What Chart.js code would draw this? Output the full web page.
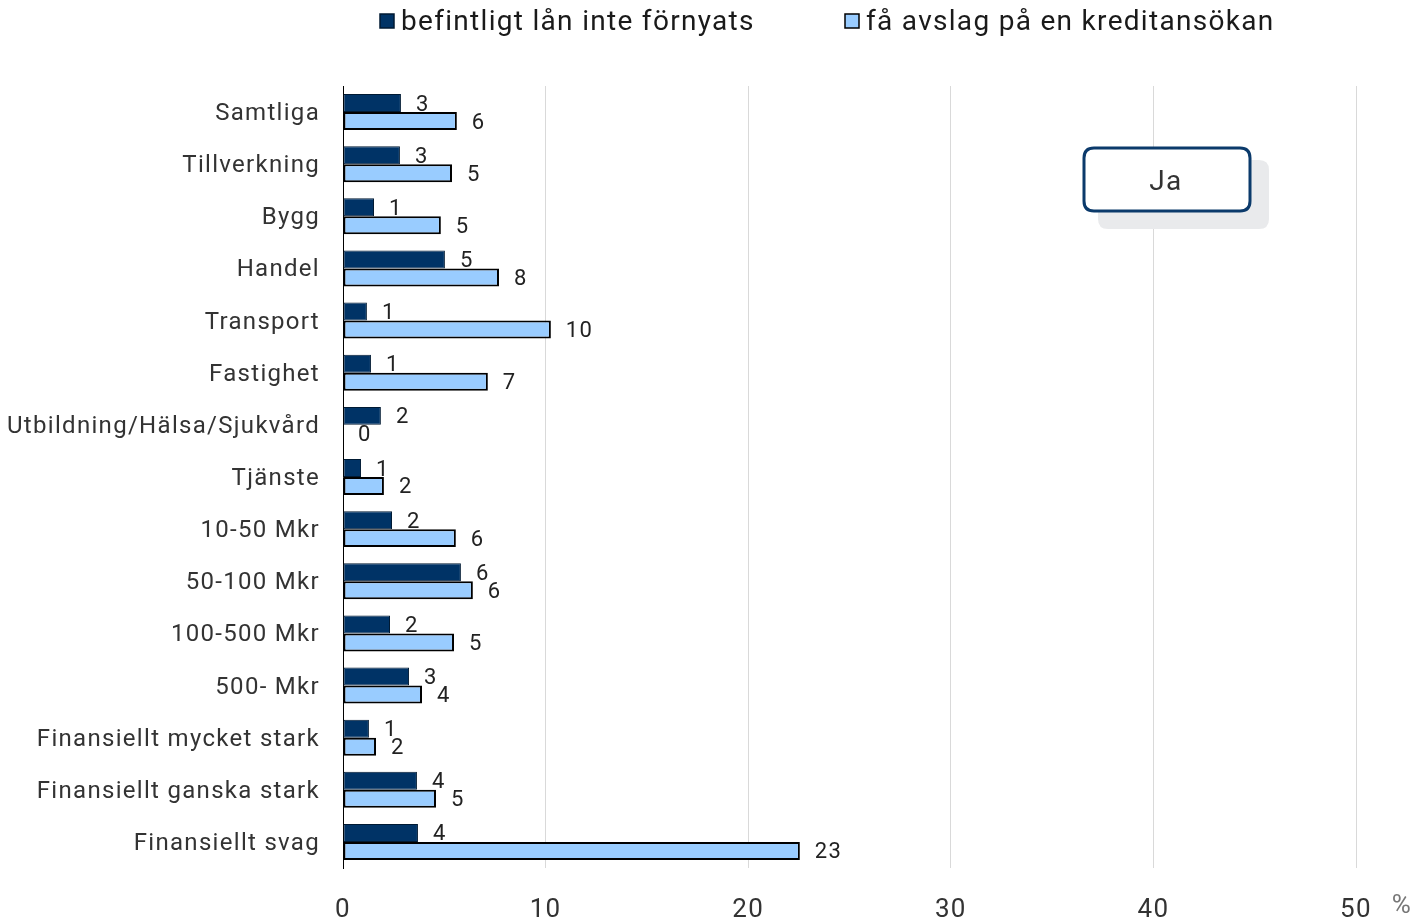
<!DOCTYPE html>
<html>
<head>
<meta charset="utf-8">
<script src="https://cdn.jsdelivr.net/npm/chart.js@4/dist/chart.umd.min.js"></script>
<style>
  html, body { margin: 0; padding: 0; background: #fff; }
  #wrap { width: 1422px; height: 921px; position: relative; }
</style>
</head>
<body>
<div id="wrap"><canvas id="c"></canvas></div>
<script>
  // kategorier och värden (procent)
  var categories = [
    'Samtliga', 'Tillverkning', 'Bygg', 'Handel', 'Transport', 'Fastighet',
    'Utbildning/Hälsa/Sjukvård', 'Tjänste', '10-50 Mkr', '50-100 Mkr',
    '100-500 Mkr', '500- Mkr', 'Finansiellt mycket stark',
    'Finansiellt ganska stark', 'Finansiellt svag'
  ];
  var seriesNames = ['befintligt lån inte förnyats', 'få avslag på en kreditansökan'];
  var notRenewed = [2.86, 2.81, 1.53, 5.03, 1.18, 1.38, 1.87, 0.89, 2.42, 5.82, 2.32, 3.26, 1.28, 3.65, 3.70];
  var rejected   = [5.62, 5.38, 4.83, 7.70, 10.26, 7.15, 0, 2.02, 5.57, 6.41, 5.48, 3.90, 1.63, 4.59, 22.55];
  var notRenewedLabels = ['3', '3', '1', '5', '1', '1', '2', '1', '2', '6', '2', '3', '1', '4', '4'];
  var rejectedLabels   = ['6', '5', '5', '8', '10', '7', '0', '2', '6', '6', '5', '4', '2', '5', '23'];
  var xTicks = [0, 10, 20, 30, 40, 50];

  var DARK = '#003366';
  var LIGHT = '#99CCFF';
  var FONT = "Roboto, 'Noto Sans', sans-serif";
  var SPACING = '1.3px';

  // bredare teckenavstånd, sätts om efter varje canvas-resize
  var spacing = {
    id: 'spacing',
    beforeLayout: function (chart) { chart.ctx.letterSpacing = SPACING; },
    beforeDraw: function (chart) { chart.ctx.letterSpacing = SPACING; }
  };

  /* -------------------------------------------------------
     värdeetiketter vid staplarnas ände
  ------------------------------------------------------- */
  var valueLabels = {
    id: 'valueLabels',
    afterDatasetsDraw: function (chart) {
      var ctx = chart.ctx;
      var lists = [notRenewedLabels, rejectedLabels];
      ctx.save();
      ctx.font = '22px ' + FONT;
      ctx.fillStyle = '#222';
      ctx.textAlign = 'left';
      ctx.textBaseline = 'middle';
      chart.data.datasets.forEach(function (ds, i) {
        chart.getDatasetMeta(i).data.forEach(function (el, j) {
          ctx.fillText(lists[i][j], el.x + 15, el.y + 2);
        });
      });
      ctx.restore();
    }
  };

  /* -------------------------------------------------------
     legend, "Ja"-ruta och %-tecken
  ------------------------------------------------------- */
  var decorations = {
    id: 'decorations',
    afterDraw: function (chart) {
      var ctx = chart.ctx;
      ctx.save();

      // legend
      ctx.font = '28px ' + FONT;
      ctx.textBaseline = 'middle';
      ctx.textAlign = 'left';
      var items = [
        { x: 380, color: DARK, border: '#001a33', text: seriesNames[0] },
        { x: 845, color: LIGHT, border: '#000', text: seriesNames[1] }
      ];
      items.forEach(function (it) {
        ctx.fillStyle = it.color;
        ctx.fillRect(it.x, 14, 14, 14);
        ctx.lineWidth = 1.5;
        ctx.strokeStyle = it.border;
        ctx.strokeRect(it.x, 14, 14, 14);
        ctx.fillStyle = '#1a1a1a';
        ctx.fillText(it.text, it.x + 21, 23);
      });

      // Ja-ruta med skugga
      function rr(x, y, w, h, r) {
        ctx.beginPath();
        ctx.moveTo(x + r, y);
        ctx.lineTo(x + w - r, y);
        ctx.quadraticCurveTo(x + w, y, x + w, y + r);
        ctx.lineTo(x + w, y + h - r);
        ctx.quadraticCurveTo(x + w, y + h, x + w - r, y + h);
        ctx.lineTo(x + r, y + h);
        ctx.quadraticCurveTo(x, y + h, x, y + h - r);
        ctx.lineTo(x, y + r);
        ctx.quadraticCurveTo(x, y, x + r, y);
        ctx.closePath();
      }
      ctx.fillStyle = '#e9eaec';
      rr(1098, 160, 171, 69, 10);
      ctx.fill();
      ctx.fillStyle = '#fff';
      rr(1084, 148, 166, 63, 10);
      ctx.fill();
      ctx.lineWidth = 3;
      ctx.strokeStyle = '#0b3a6b';
      ctx.stroke();
      ctx.fillStyle = '#333';
      ctx.font = '28px ' + FONT;
      ctx.textAlign = 'center';
      ctx.fillText('Ja', 1166, 183);

      // procenttecken
      ctx.fillStyle = '#777';
      ctx.font = '26px ' + FONT;
      ctx.fillText('%', 1402, 906);

      ctx.restore();
    }
  };

  new Chart(document.getElementById('c'), {
    type: 'bar',
    data: {
      labels: categories,
      datasets: [{
        label: seriesNames[0],
        data: notRenewed,
        backgroundColor: DARK,
        borderColor: '#001a33',
        borderWidth: 1,
        borderSkipped: false
      }, {
        label: seriesNames[1],
        data: rejected,
        backgroundColor: LIGHT,
        borderColor: '#000',
        borderWidth: 2,
        borderSkipped: false
      }]
    },
    options: {
      indexAxis: 'y',
      responsive: true,
      maintainAspectRatio: false,
      animation: false,
      layout: { padding: { top: 86, right: 66, left: 0, bottom: 0 } },
      datasets: { bar: { barPercentage: 1, categoryPercentage: 0.69 } },
      plugins: {
        legend: { display: false },
        tooltip: { enabled: false }
      },
      scales: {
        x: {
          min: 0,
          max: 50,
          afterBuildTicks: function (scale) {
            scale.ticks = xTicks.map(function (v) { return { value: v }; });
          },
          afterFit: function (scale) { scale.height = 53; },
          grid: { color: '#d9d9d9', lineWidth: 1, drawTicks: false },
          border: { display: false },
          ticks: { color: '#333', padding: 27, font: { size: 26, family: FONT } }
        },
        y: {
          afterFit: function (scale) { scale.width = 343; },
          grid: { display: false, drawTicks: false },
          border: { display: true, color: '#000', width: 1 },
          ticks: { color: '#333', padding: 23, labelOffset: 2, font: { size: 24, family: FONT } }
        }
      }
    },
    plugins: [spacing, valueLabels, decorations]
  });
</script>
</body>
</html>
